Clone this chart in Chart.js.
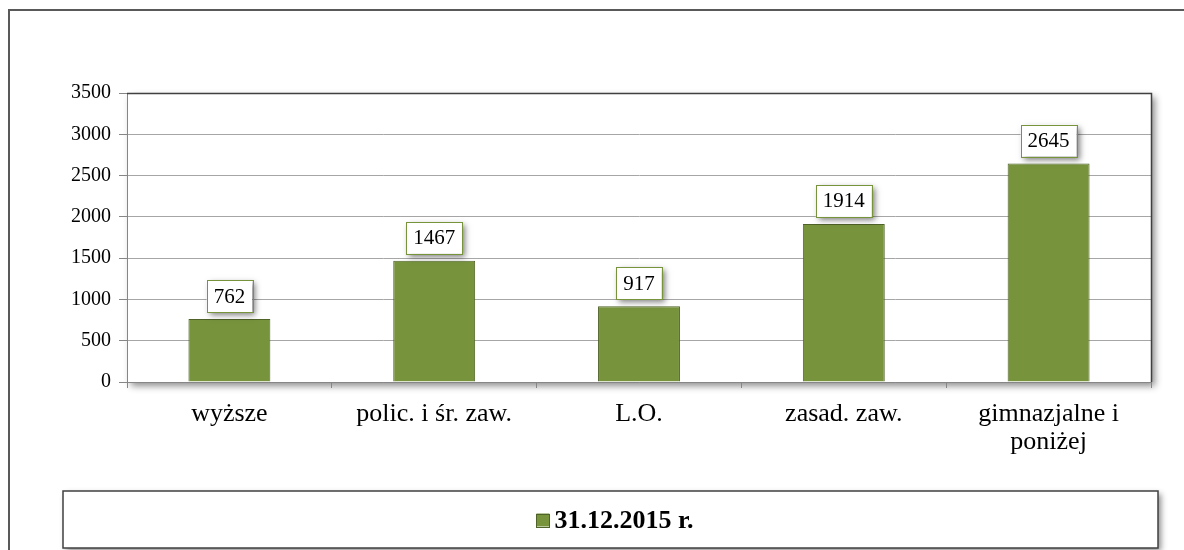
<!DOCTYPE html>
<html>
<head>
<meta charset="utf-8">
<script src="https://cdn.jsdelivr.net/npm/chart.js@4/dist/chart.umd.min.js"></script>
<style>
html,body{margin:0;padding:0;background:#fff;}
canvas{display:block;}
</style>
</head>
<body>
<canvas id="c" width="1184" height="550"></canvas>
<script>
const categories = ['wyższe', 'polic. i śr. zaw.', 'L.O.', 'zasad. zaw.', ['gimnazjalne i', 'poniżej']];
const values = [762, 1467, 917, 1914, 2645];
const seriesName = '31.12.2015 r.';
const yTicks = [0, 500, 1000, 1500, 2000, 2500, 3000, 3500];

const SERIF = '"Liberation Serif", "Times New Roman", serif';

const decor = {
  id: 'decor',
  beforeDraw(chart) {
    const ctx = chart.ctx;
    const a = chart.chartArea;
    ctx.save();
    // outer frame
    ctx.strokeStyle = '#595959';
    ctx.lineWidth = 2;
    ctx.strokeRect(9, 10, 1400, 800);
    // plot area shadow
    ctx.shadowColor = 'rgba(0,0,0,0.45)';
    ctx.shadowBlur = 7;
    ctx.shadowOffsetX = 4;
    ctx.shadowOffsetY = 4;
    ctx.fillStyle = '#fff';
    ctx.fillRect(a.left, a.top, a.right - a.left, a.bottom - a.top);
    ctx.shadowColor = 'transparent';
    // legend box
    ctx.shadowColor = 'rgba(0,0,0,0.45)';
    ctx.shadowBlur = 6;
    ctx.shadowOffsetX = 3;
    ctx.shadowOffsetY = 3;
    ctx.fillStyle = '#fff';
    ctx.fillRect(63, 491, 1095, 57);
    ctx.shadowColor = 'transparent';
    ctx.strokeStyle = '#404040';
    ctx.lineWidth = 1.5;
    ctx.strokeRect(63, 491, 1095, 57);
    // legend content
    const ds = chart.data.datasets[0];
    ctx.font = 'bold 26px ' + SERIF;
    ctx.textBaseline = 'middle';
    ctx.textAlign = 'left';
    const tw = ctx.measureText(ds.label).width;
    const sq = 13, gap = 5;
    const total = sq + gap + tw;
    const cx = 615, cy = 520;
    const sx = cx - total / 2;
    ctx.fillStyle = ds.backgroundColor;
    ctx.fillRect(sx, cy - sq / 2, sq, sq);
    ctx.strokeStyle = ds.borderColor;
    ctx.lineWidth = 1;
    ctx.strokeRect(Math.round(sx) + 0.5, Math.round(cy - sq / 2) + 0.5, sq, sq);
    ctx.fillStyle = '#000';
    ctx.fillText(ds.label, sx + sq + gap, cy + 1);
    ctx.restore();
  },
  afterDraw(chart) {
    const ctx = chart.ctx;
    const a = chart.chartArea;
    ctx.save();
    ctx.strokeStyle = '#404040';
    ctx.lineWidth = 1.5;
    ctx.beginPath();
    ctx.moveTo(a.left, a.top + 0.5);
    ctx.lineTo(a.right + 0.5, a.top + 0.5);
    ctx.lineTo(a.right + 0.5, a.bottom);
    ctx.stroke();
    ctx.restore();
  }
};

const boxLabels = {
  id: 'boxLabels',
  afterDatasetsDraw(chart) {
    const ctx = chart.ctx;
    const meta = chart.getDatasetMeta(0);
    ctx.save();
    ctx.font = '21px ' + SERIF;
    ctx.textAlign = 'center';
    ctx.textBaseline = 'middle';
    meta.data.forEach((bar, i) => {
      const txt = String(chart.data.datasets[0].data[i]);
      const w = ctx.measureText(txt).width + 14;
      const h = 32;
      const x = bar.x - w / 2;
      const y = bar.y - 7 - h;
      ctx.shadowColor = 'rgba(0,0,0,0.5)';
      ctx.shadowBlur = 6;
      ctx.shadowOffsetX = 3;
      ctx.shadowOffsetY = 3;
      ctx.fillStyle = '#fff';
      ctx.fillRect(x, y, w, h);
      ctx.shadowColor = 'transparent';
      ctx.strokeStyle = '#77933C';
      ctx.lineWidth = 1;
      ctx.strokeRect(Math.round(x) + 0.5, Math.round(y) + 0.5, Math.round(w), h);
      ctx.fillStyle = '#000';
      ctx.fillText(txt, bar.x, y + h / 2 + 1);
    });
    ctx.restore();
  }
};

new Chart(document.getElementById('c'), {
  type: 'bar',
  data: {
    labels: categories,
    datasets: [{
      label: seriesName,
      data: values,
      backgroundColor: '#77933C',
      borderColor: '#4F6228',
      borderWidth: 1,
      barPercentage: 0.4,
      categoryPercentage: 1.0
    }]
  },
  options: {
    responsive: false,
    animation: false,
    devicePixelRatio: 1,
    layout: { padding: { left: 0, right: 33, top: 93, bottom: 60 } },
    plugins: {
      tooltip: { enabled: false },
      legend: { display: false }
    },
    scales: {
      x: {
        afterFit(s) { s.height = 108; },
        grid: { drawOnChartArea: false, drawTicks: true, tickLength: 6, offset: true, color: '#868686' },
        border: { display: true, color: '#868686' },
        ticks: { color: '#000', padding: 12, font: { family: SERIF, size: 26, lineHeight: 1.08 }, maxRotation: 0, autoSkip: false }
      },
      y: {
        min: 0, max: 3500,
        afterFit(s) { s.width = 127; },
        afterBuildTicks(s) { s.ticks = yTicks.map(v => ({ value: v })); },
        grid: { color: '#A6A6A6', drawTicks: true, tickLength: 8, tickColor: '#868686' },
        border: { display: true, color: '#868686' },
        ticks: { color: '#000', padding: 8, font: { family: SERIF, size: 20 }, callback: v => String(v) }
      }
    }
  },
  plugins: [decor, boxLabels]
});
</script>
</body>
</html>
